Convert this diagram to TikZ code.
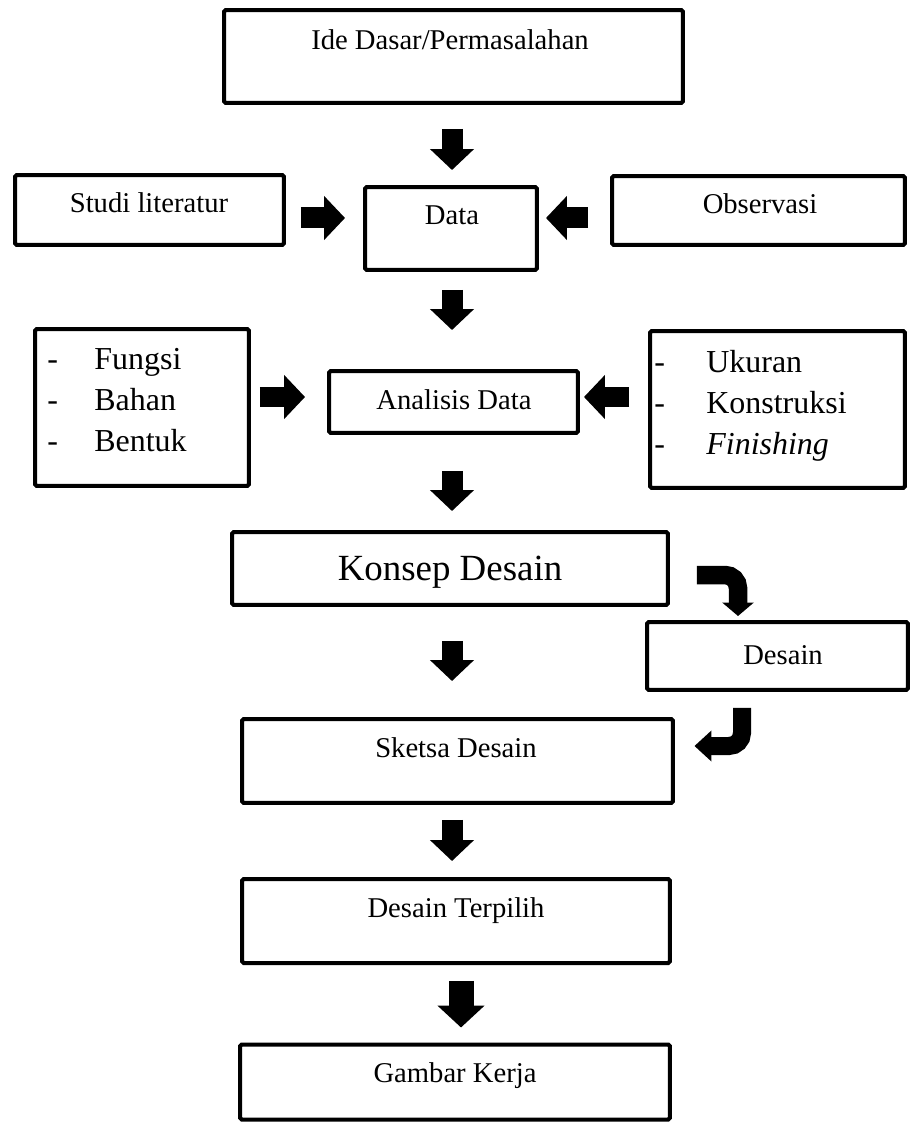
\documentclass[tikz,border=0pt]{standalone}
\usepackage{fontspec}
\setmainfont{Liberation Serif}
\usetikzlibrary{arrows.meta}

\tikzset{
box/.style={draw, line width=0.08cm, rounded corners=1pt, inner sep=0pt},
txt/.style={inner sep=0pt, anchor=base, font=\fontsize{16.3}{19.6}\selectfont},
listtxt/.style={inner sep=0pt, anchor=base west, font=\fontsize{18.2}{23.3}\selectfont},
blockarrow/.style={line width=0.42cm, -{Triangle[width=0.86cm,length=0.42cm]}},
bentarrow/.style={line width=0.37cm, rounded corners=0.26cm, -{Triangle[width=0.62cm,length=0.27cm]}}
}

\begin{document}
\begin{tikzpicture}[x=0.02cm, y=-0.02cm]
\useasboundingbox (0,0) rectangle (912,1124);

%boxes:
\node[box, minimum width=9.18cm, minimum height=1.86cm] (ide) at (453.5,56.5) {};
\node[box, minimum width=5.38cm, minimum height=1.40cm] (studi) at (149.5,210) {};
\node[box, minimum width=3.44cm, minimum height=1.66cm] (data) at (451,228.5) {};
\node[box, minimum width=5.86cm, minimum height=1.38cm] (obs) at (758.5,210.5) {};
\node[box, minimum width=4.28cm, minimum height=3.14cm] (listL) at (142,407.5) {};
\node[box, minimum width=4.98cm, minimum height=1.24cm] (analisis) at (453.5,402) {};
\node[box, minimum width=5.10cm, minimum height=3.14cm] (listR) at (777.5,409.5) {};
\node[box, minimum width=8.72cm, minimum height=1.46cm] (konsep) at (450,568.5) {};
\node[box, minimum width=5.22cm, minimum height=1.36cm] (desain) at (777.5,656) {};
\node[box, minimum width=8.62cm, minimum height=1.68cm] (sketsa) at (457.5,761) {};
\node[box, minimum width=8.56cm, minimum height=1.68cm] (terpilih) at (456,921) {};
\node[box, minimum width=8.60cm, minimum height=1.50cm] (gambar) at (455,1082) {};

%texts:
\node[txt] (ideT) at (450,50) {Ide Dasar/Permasalahan};
\node[txt] (studiT) at (149,213) {Studi literatur};
\node[txt] (dataT) at (452,225) {Data};
\node[txt] (obsT) at (760,214) {Observasi};
\node[txt] (analisisT) at (454,410) {Analisis Data};
\node[txt, font=\fontsize{21}{25}\selectfont] (konsepT) at (450,580) {Konsep Desain};
\node[txt] (desainT) at (783,664) {Desain};
\node[txt] (sketsaT) at (456,757) {Sketsa Desain};
\node[txt] (terpilihT) at (456,917) {Desain Terpilih};
\node[txt] (gambarT) at (455,1082) {Gambar Kerja};

\node[listtxt] (listLT) at (47,370) {\begin{tabular}[t]{@{}p{0.94cm}@{}l@{}}
- & Fungsi\\
- & Bahan\\
- & Bentuk
\end{tabular}};
\node[listtxt] (listRT) at (654,373) {\begin{tabular}[t]{@{}p{1.04cm}@{}l@{}}
- & Ukuran\\
- & Konstruksi\\
- & \textit{Finishing}
\end{tabular}};

%down arrows
\coordinate (col) at (452,0);
\coordinate (col6) at (461,0);
\draw[blockarrow, shorten <=0.48cm, shorten >=0.30cm] (ide.south -| col) -- (data.north -| col);
\draw[blockarrow, shorten <=0.36cm, shorten >=0.78cm] (data.south -| col) -- (analisis.north -| col);
\draw[blockarrow, shorten <=0.72cm, shorten >=0.38cm] (analisis.south -| col) -- (konsep.north -| col);
\draw[blockarrow, shorten <=0.68cm, shorten >=0.72cm] (konsep.south -| col) -- (sketsa.north -| col);
\draw[blockarrow, shorten <=0.30cm, shorten >=0.32cm] (sketsa.south -| col) -- (terpilih.north -| col);
\draw[blockarrow, line width=0.5cm, -{Triangle[width=0.92cm,length=0.44cm]}, shorten <=0.32cm, shorten >=0.30cm] (terpilih.south -| col6) -- (gambar.north -| col6);

%side arrows
\coordinate (row1) at (0,218);
\coordinate (row2) at (0,397);
\draw[blockarrow, shorten <=0.30cm, shorten >=0.36cm] (studi.east |- row1) -- (data.west |- row1);
\draw[blockarrow, shorten <=0.44cm, shorten >=0.14cm] (obs.west |- row1) -- (data.east |- row1);
\draw[blockarrow, shorten <=0.18cm, shorten >=0.44cm] (listL.east |- row2) -- (analisis.west |- row2);
\draw[blockarrow, shorten <=0.38cm, shorten >=0.08cm] (listR.west |- row2) -- (analisis.east |- row2);

%bent arrows
\coordinate (b1) at (738,575);
\coordinate (b2) at (742,746);
\draw[bentarrow, shorten <=0.54cm, shorten >=0.08cm] (konsep.east |- b1) -| (desain.north -| b1);
\draw[bentarrow, line width=0.36cm, -{Triangle[width=0.6cm,length=0.34cm]}, shorten <=0.32cm, shorten >=0.39cm] (desain.south -| b2) |- (sketsa.east |- b2);

\end{tikzpicture}
\end{document}
